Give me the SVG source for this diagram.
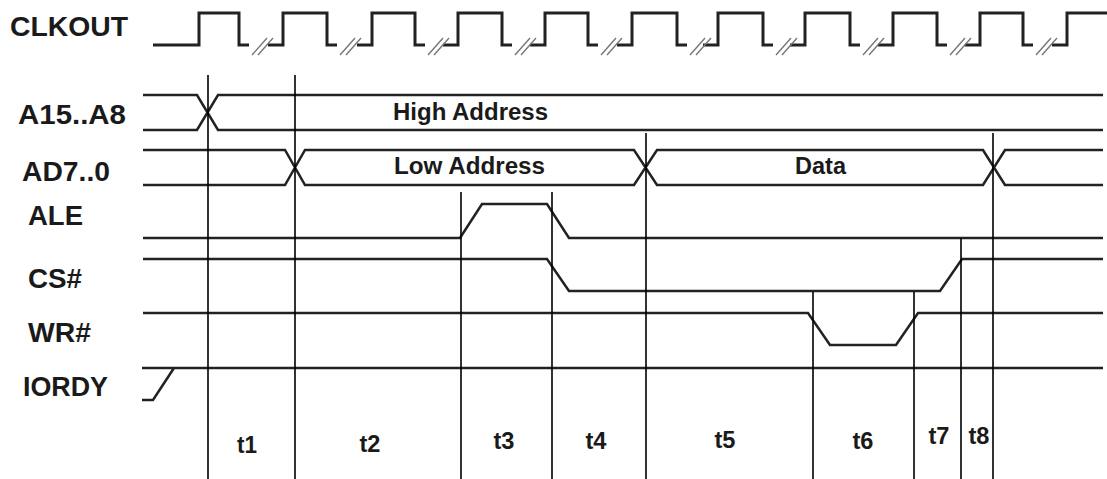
<svg xmlns="http://www.w3.org/2000/svg" width="1107" height="479" viewBox="0 0 1107 479">
<style>
.lbl{font-family:"Liberation Sans",Arial,sans-serif;font-weight:bold;font-size:27px;fill:#1a1a1a}
.bus{font-family:"Liberation Sans",Arial,sans-serif;font-weight:bold;font-size:23px;fill:#1a1a1a}
.tl{font-family:"Liberation Sans",Arial,sans-serif;font-weight:bold;font-size:23px;fill:#1a1a1a;text-anchor:middle}
.sig{fill:none;stroke:#222;stroke-width:2.5;stroke-linejoin:miter}
.clk{fill:none;stroke:#222;stroke-width:3}
.brk{fill:none;stroke:#777;stroke-width:1.4}
.mk{fill:none;stroke:#000;stroke-width:1.6}
</style>
<rect width="1107" height="479" fill="#fff"/>
<g id="clkout">
<text class="lbl" x="10" y="36" textLength="118" lengthAdjust="spacingAndGlyphs">CLKOUT</text>
<path class="clk" d="M153,45 H199 V13 H239 V45 H249 M268,45 H283 V13 H327 V45 H337 M357,45 H372 V13 H415 V45 H425 M443,45 H458 V13 H502 V45 H512 M530,45 H545 V13 H588 V45 H598 M617,45 H632 V13 H677 V45 H687 M703,45 H718 V13 H763 V45 H773 M790,45 H805 V13 H850 V45 H860 M878,45 H893 V13 H937 V45 H947 M965,45 H980 V13 H1023 V45 H1033 M1052,45 H1067 V13 H1107"/>
<path class="brk" d="M252,55 L267,38 M258,55 L273,38 M340,55 L355,38 M346,55 L361,38 M428,55 L443,38 M434,55 L449,38 M515,55 L530,38 M521,55 L536,38 M601,55 L616,38 M607,55 L622,38 M690,55 L705,38 M696,55 L711,38 M776,55 L791,38 M782,55 L797,38 M863,55 L878,38 M869,55 L884,38 M950,55 L965,38 M956,55 L971,38 M1036,55 L1051,38 M1042,55 L1057,38"/>
</g>
<g id="a15a8">
<text class="lbl" x="18" y="124" textLength="108" lengthAdjust="spacingAndGlyphs">A15..A8</text>
<path class="sig" d="M143,95 H197 L218,130 H1103 M143,130 H197 L218,95 H1103"/>
<text class="bus" x="393" y="120" textLength="155" lengthAdjust="spacingAndGlyphs">High Address</text>
</g>
<g id="ad70">
<text class="lbl" x="22" y="181" textLength="88" lengthAdjust="spacingAndGlyphs">AD7..0</text>
<path class="sig" d="M143,150 H285 L305,185 H634 L657,150 H983 L1005,185 H1103 M143,185 H285 L305,150 H634 L657,185 H983 L1005,150 H1103"/>
<text class="bus" x="394" y="174" textLength="151" lengthAdjust="spacingAndGlyphs">Low Address</text>
<text class="bus" x="795" y="174" textLength="51" lengthAdjust="spacingAndGlyphs">Data</text>
</g>
<g id="ale">
<text class="lbl" x="28" y="225" textLength="55" lengthAdjust="spacingAndGlyphs">ALE</text>
<path class="sig" d="M143,238 H460 L482,204 H547 L569,238 H1103"/>
</g>
<g id="cs">
<text class="lbl" x="28" y="288" textLength="54" lengthAdjust="spacingAndGlyphs">CS#</text>
<path class="sig" d="M143,259 H547 L569,291 H940 L962,259 H1103"/>
</g>
<g id="wr">
<text class="lbl" x="28" y="342" textLength="63" lengthAdjust="spacingAndGlyphs">WR#</text>
<path class="sig" d="M143,313 H808 L830,345 H896 L918,313 H1103"/>
</g>
<g id="iordy">
<text class="lbl" x="23" y="396" textLength="85" lengthAdjust="spacingAndGlyphs">IORDY</text>
<path class="sig" d="M142,368 H1103 M142,400 H153 L174,368"/>
</g>
<g id="connectors">
<path class="mk" d="M208,75 V479 M295,75 V479 M461,192 V479 M552,192 V479 M646,133 V479 M813,292 V479 M914,292 V479 M961,238 V479 M993,133 V479"/>
</g>
<g id="intervals">
<text class="tl" x="247" y="453" textLength="20" lengthAdjust="spacingAndGlyphs">t1</text>
<text class="tl" x="370" y="452" textLength="21" lengthAdjust="spacingAndGlyphs">t2</text>
<text class="tl" x="504" y="449" textLength="21" lengthAdjust="spacingAndGlyphs">t3</text>
<text class="tl" x="596" y="449" textLength="21" lengthAdjust="spacingAndGlyphs">t4</text>
<text class="tl" x="725" y="448" textLength="21" lengthAdjust="spacingAndGlyphs">t5</text>
<text class="tl" x="863" y="449" textLength="21" lengthAdjust="spacingAndGlyphs">t6</text>
<text class="tl" x="939" y="444" textLength="21" lengthAdjust="spacingAndGlyphs">t7</text>
<text class="tl" x="979" y="444" textLength="21" lengthAdjust="spacingAndGlyphs">t8</text>
</g>
</svg>
